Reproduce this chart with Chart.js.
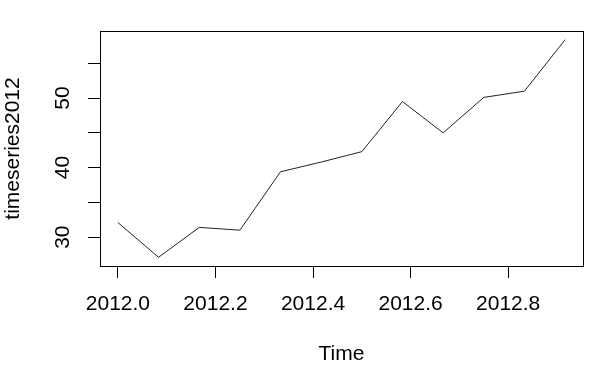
<!DOCTYPE html>
<html>
<head>
<meta charset="utf-8">
<script src="https://cdn.jsdelivr.net/npm/chart.js@4.4.0/dist/chart.umd.min.js"></script>
<style>
html,body{margin:0;padding:0;background:#fff;}
#wrap{width:606px;height:374px;}
</style>
</head>
<body>
<div id="wrap"><canvas id="c" width="606" height="374"></canvas></div>
<script>
// Monthly time index (2012 + (month-1)/12)
const times = [2012.0000, 2012.0833, 2012.1667, 2012.2500, 2012.3333, 2012.4167,
               2012.5000, 2012.5833, 2012.6667, 2012.7500, 2012.8333, 2012.9167];
// Series values
const timeseries2012 = [32.1, 27.1, 31.4, 31.0, 39.4, 40.8, 42.3, 49.5, 45.0, 50.1, 51.0, 58.4];
const xTitle = 'Time';
const yTitle = 'timeseries2012';
const yLabelled = [30, 40, 50];

const FONT = 'Liberation Sans, Arial, Helvetica, sans-serif';

function ext(arr) {
  const lo = Math.min(...arr), hi = Math.max(...arr), d = (hi - lo) * 0.04;
  return [lo - d, hi + d];
}
const [xmin, xmax] = ext(times);
const [ymin, ymax] = ext(timeseries2012);

const boxPlugin = {
  id: 'box',
  afterDraw(chart) {
    const {ctx, chartArea: a} = chart;
    ctx.save();
    ctx.strokeStyle = '#000';
    ctx.lineWidth = 1;
    ctx.strokeRect(a.left + 0.5, a.top + 0.5, a.right - a.left, a.bottom - a.top);
    ctx.restore();
  }
};

new Chart(document.getElementById('c'), {
  type: 'line',
  data: {
    datasets: [{
      data: times.map((t, i) => ({x: t, y: timeseries2012[i]})),
      borderColor: '#222',
      borderWidth: 1,
      pointRadius: 0,
      tension: 0,
      fill: false
    }]
  },
  options: {
    responsive: false,
    devicePixelRatio: 1,
    animation: false,
    layout: {padding: {top: 31, right: 23, left: 0, bottom: 0}},
    plugins: {legend: {display: false}, tooltip: {enabled: false}},
    scales: {
      x: {
        type: 'linear',
        min: xmin, max: xmax,
        afterFit(s) { s.height = 108; },
        border: {display: false},
        grid: {drawOnChartArea: false, drawTicks: true, tickLength: 12, color: '#000', tickWidth: 1},
        ticks: {
          stepSize: 0.2, includeBounds: false, autoSkip: false,
          maxRotation: 0, minRotation: 0,
          padding: 14,
          color: '#000',
          font: {family: FONT, size: 21},
          callback: v => v.toFixed(1)
        },
        title: {display: true, text: xTitle, color: '#000', font: {family: FONT, size: 21}, padding: {top: 0, bottom: 7}}
      },
      y: {
        type: 'linear',
        min: ymin, max: ymax,
        afterFit(s) { s.width = 100; },
        border: {display: false},
        grid: {drawOnChartArea: false, drawTicks: true, tickLength: 12, color: '#000', tickWidth: 1},
        ticks: {
          stepSize: 5, includeBounds: false, autoSkip: false,
          minRotation: 90, maxRotation: 90,
          crossAlign: 'center',
          padding: 13,
          color: '#000',
          font: {family: FONT, size: 21},
          callback: v => yLabelled.includes(Math.round(v * 1000) / 1000) ? String(Math.round(v)) : ''
        },
        title: {display: true, text: yTitle, color: '#000', font: {family: FONT, size: 21}, padding: {top: 1, bottom: 0}}
      }
    }
  },
  plugins: [boxPlugin]
});
</script>
</body>
</html>
